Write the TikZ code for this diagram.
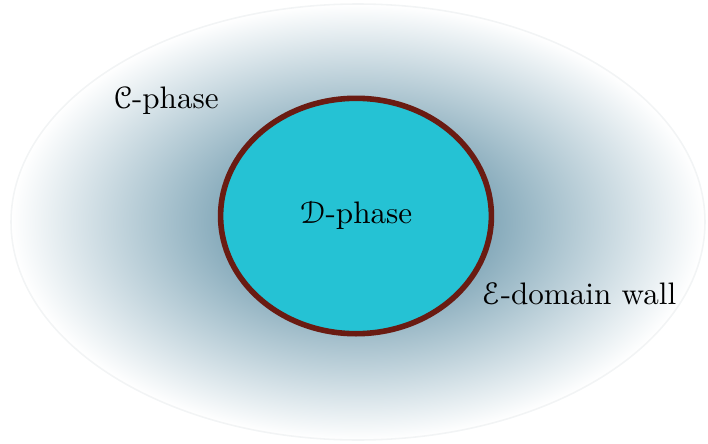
\documentclass[tikz,border=0pt]{standalone}
\usepackage{amsmath}
\usepackage{amssymb}
\usepackage{eucal}
\usepackage{tikz}
\usepackage{xcolor}
\usetikzlibrary{positioning,shapes.geometric}
\definecolor{phdark}{HTML}{3A7590}
\definecolor{phcyan}{HTML}{25C2D4}
\definecolor{phwall}{HTML}{6A1B12}
\definecolor{phrim}{HTML}{F2F4F5}
\tikzset{
  outerRegion/.style={draw=phrim, line width=0.5pt, inner color=phdark, outer color=white},
  innerPhase/.style={ellipse, draw=phwall, fill=phcyan, line width=1.8pt, minimum width=3.06cm, minimum height=2.66cm, inner sep=0pt},
  phaseLabel/.style={font=\normalsize, inner sep=1pt}
}

\begin{document}
\begin{tikzpicture}[x=1.13cm,y=1.13cm]
  \useasboundingbox (-3.58,-2.21) rectangle (3.50,2.22);
  \shade[outerRegion] (0,0) ellipse (3.47 and 2.18);
  \node[innerPhase] (dphase) at (-0.02,0.06) {$\mathcal{D}$-phase};
  \node[phaseLabel] (cphase) at (-1.92,1.21) {$\mathcal{C}$-phase};
  \node[phaseLabel] (ewall) at (2.21,-0.72) {$\mathcal{E}$-domain wall};
\end{tikzpicture}
\end{document}
